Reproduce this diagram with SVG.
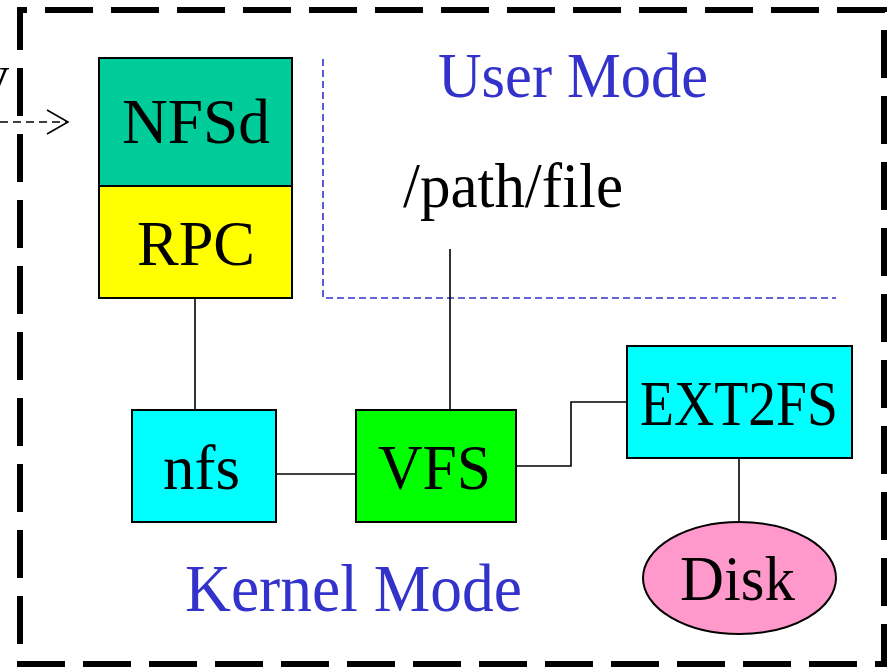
<svg xmlns="http://www.w3.org/2000/svg" width="894" height="667" viewBox="0 0 894 667">
<style>
.box{stroke:#000;stroke-width:2}
.lbl{font-family:"Liberation Serif","Times New Roman",serif;font-size:63px;fill:#000}
.mode{font-family:"Liberation Serif","Times New Roman",serif;font-size:63px;fill:#3333CC}
.conn{stroke:#000;stroke-width:1.6;fill:none}
.border{stroke:#000;stroke-width:6;fill:none;stroke-dasharray:48 18}
</style>
<defs>
<marker id="open" viewBox="0 0 24 26" refX="22" refY="13" markerWidth="24" markerHeight="26" markerUnits="userSpaceOnUse" orient="auto">
<path d="M1,1 L22,13 L1,25" fill="none" stroke="#000" stroke-width="1.6"/>
</marker>
</defs>
<rect width="894" height="667" fill="#fff"/>
<g id="border">
<line class="border" x1="17" y1="10" x2="887" y2="10" stroke-dashoffset="38"/>
<line class="border" x1="20" y1="7" x2="20" y2="667" stroke-dashoffset="5"/>
<line class="border" x1="884" y1="7" x2="884" y2="667" stroke-dashoffset="43"/>
<line class="border" x1="17" y1="664" x2="887" y2="664"/>
</g>
<g id="user-mode-boundary">
<polyline points="323,59 323,298 836,298" fill="none" stroke="#3333CC" stroke-width="1.6" stroke-dasharray="7 4"/>
</g>
<g id="external">
<text x="-17" y="92" style="font-family:'Liberation Serif',serif;font-size:52px" fill="#000">v</text>
</g>
<g id="connectors">
<line x1="0" y1="122" x2="68" y2="122" stroke="#000" stroke-width="1.4" stroke-dasharray="8 5" marker-end="url(#open)"/>
<line class="conn" x1="195" y1="298" x2="195" y2="410"/>
<line class="conn" x1="276" y1="474" x2="356" y2="474"/>
<line class="conn" x1="450" y1="249" x2="450" y2="410"/>
<polyline class="conn" points="516,466 571,466 571,402 627,402"/>
<line class="conn" x1="739" y1="458" x2="739" y2="522"/>
</g>
<g id="NFSd">
<rect class="box" x="99" y="58" width="193" height="128" fill="#00CC99"/>
<text class="lbl" x="122" y="143" textLength="148" lengthAdjust="spacingAndGlyphs">NFSd</text>
</g>
<g id="RPC">
<rect class="box" x="99" y="186" width="193" height="112" fill="#FFFF00"/>
<text class="lbl" x="137" y="265" textLength="118" lengthAdjust="spacingAndGlyphs">RPC</text>
</g>
<g id="nfs">
<rect class="box" x="132" y="410" width="144" height="112" fill="#00FFFF"/>
<text class="lbl" x="163" y="489" textLength="77" lengthAdjust="spacingAndGlyphs">nfs</text>
</g>
<g id="VFS">
<rect class="box" x="356" y="410" width="160" height="112" fill="#00FF00"/>
<text class="lbl" x="378" y="489" textLength="113" lengthAdjust="spacingAndGlyphs">VFS</text>
</g>
<g id="EXT2FS">
<rect class="box" x="627" y="346" width="225" height="112" fill="#00FFFF"/>
<text class="lbl" x="640" y="425" textLength="198" lengthAdjust="spacingAndGlyphs">EXT2FS</text>
</g>
<g id="Disk">
<ellipse class="box" cx="739.5" cy="578" rx="96.5" ry="56" fill="#FF99CC"/>
<text class="lbl" x="680" y="600" textLength="115" lengthAdjust="spacingAndGlyphs">Disk</text>
</g>
<g id="path-file">
<text class="lbl" x="403" y="207" textLength="220" lengthAdjust="spacingAndGlyphs">/path/file</text>
</g>
<g id="labels">
<text class="mode" x="438" y="97" textLength="270" lengthAdjust="spacingAndGlyphs">User Mode</text>
<text class="mode" x="185" y="611" style="font-size:68px" textLength="337" lengthAdjust="spacingAndGlyphs">Kernel Mode</text>
</g>
</svg>
